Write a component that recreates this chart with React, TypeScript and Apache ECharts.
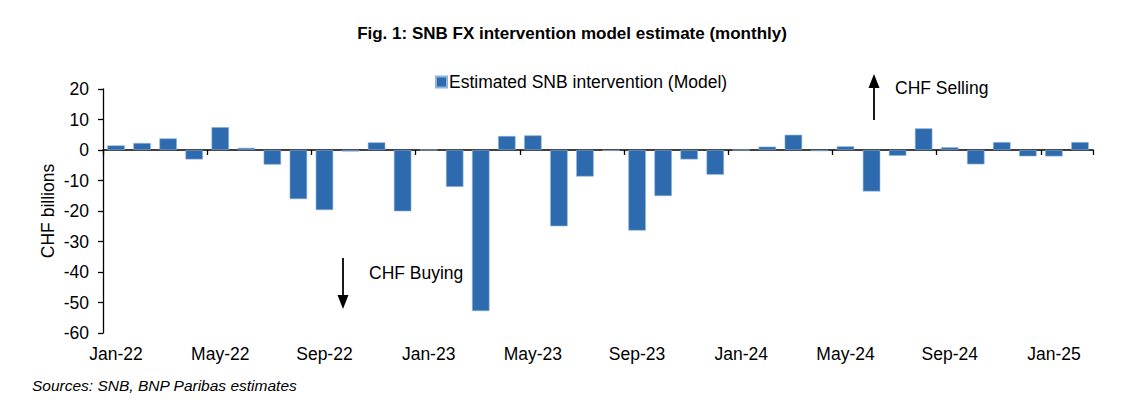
import React, { useEffect, useRef } from "react";
import * as echarts from "echarts";

const months: string[] = [
  "Jan-22", "Feb-22", "Mar-22", "Apr-22", "May-22", "Jun-22", "Jul-22", "Aug-22", "Sep-22", "Oct-22", "Nov-22", "Dec-22",
  "Jan-23", "Feb-23", "Mar-23", "Apr-23", "May-23", "Jun-23", "Jul-23", "Aug-23", "Sep-23", "Oct-23", "Nov-23", "Dec-23",
  "Jan-24", "Feb-24", "Mar-24", "Apr-24", "May-24", "Jun-24", "Jul-24", "Aug-24", "Sep-24", "Oct-24", "Nov-24", "Dec-24",
  "Jan-25", "Feb-25",
];

const intervention: number[] = [
  1.5, 2.3, 3.8, -3.1, 7.5, 0.7, -4.8, -16.1, -19.7, -0.5, 2.5, -20.1,
  0, -12.1, -52.8, 4.6, 4.8, -25.0, -8.7, -0.3, -26.4, -15.1, -3.1, -8.1,
  0, 1.1, 5.0, -0.4, 1.2, -13.6, -1.9, 7.1, 0.9, -4.7, 2.6, -2.1,
  -2.1, 2.6,
];

const yTicks = { min: -60, max: 20, interval: 10 };

const FONT = "'Liberation Sans', Arial, Helvetica, sans-serif";
const FS = 17.5;

export default function App() {
  const ref = useRef<HTMLDivElement>(null);

  useEffect(() => {
    document.body.style.margin = "0";
    const chart = echarts.init(ref.current!, null, { renderer: "svg" });
    chart.setOption({
      animation: false,
      backgroundColor: "#ffffff",
      textStyle: { fontFamily: FONT },
      title: {
        text: "Fig. 1: SNB FX intervention model estimate (monthly)",
        left: "center",
        top: 20,
        textStyle: { fontFamily: FONT, fontSize: 17, fontWeight: "bold", color: "#000" },
      },
      legend: {
        left: 430,
        top: 68,
        icon: "rect",
        itemWidth: 11,
        itemHeight: 11,
        textStyle: { fontFamily: FONT, fontSize: FS, color: "#000", padding: [0, 0, 0, -3] },
        data: ["Estimated SNB intervention (Model)"],
      },
      grid: { left: 103, right: 51, top: 89, bottom: 74, containLabel: false },
      xAxis: [
        {
          type: "category",
          data: months,
          boundaryGap: true,
          axisLine: { onZero: true, lineStyle: { color: "#000", width: 1.5 } },
          axisTick: { show: true, interval: 3, length: 5, inside: false, lineStyle: { color: "#000", width: 1.3 } },
          axisLabel: { show: false },
          splitLine: { show: false },
        },
        {
          type: "category",
          data: months,
          boundaryGap: true,
          position: "bottom",
          axisLine: { show: false, onZero: false },
          axisTick: { show: false },
          axisLabel: { show: true, interval: 3, margin: 12, fontFamily: FONT, fontSize: FS, color: "#000" },
          splitLine: { show: false },
        },
      ],
      yAxis: {
        type: "value",
        min: yTicks.min,
        max: yTicks.max,
        interval: yTicks.interval,
        axisLine: { show: true, lineStyle: { color: "#000", width: 1.3 } },
        axisTick: { show: true, length: 5, inside: false, lineStyle: { color: "#000", width: 1.3 } },
        axisLabel: { fontFamily: FONT, fontSize: FS, color: "#000", margin: 14 },
        splitLine: { show: false },
      },
      graphic: [
        {
          type: "text",
          x: 48,
          y: 211,
          rotation: Math.PI / 2,
          style: { text: "CHF billions", font: `${FS}px ${FONT}`, fill: "#000", verticalAlign: "middle", align: "center" },
        },
        {
          type: "line",
          shape: { x1: 874, y1: 120, x2: 874, y2: 86 },
          style: { stroke: "#000", lineWidth: 1.8 },
        },
        {
          type: "polygon",
          shape: { points: [[874, 74], [868.5, 88], [879.5, 88]] },
          style: { fill: "#000" },
        },
        {
          type: "text",
          x: 895,
          y: 88,
          style: { text: "CHF Selling", font: `${FS}px ${FONT}`, fill: "#000", verticalAlign: "middle", align: "left" },
        },
        {
          type: "line",
          shape: { x1: 343, y1: 258, x2: 343, y2: 296 },
          style: { stroke: "#000", lineWidth: 1.8 },
        },
        {
          type: "polygon",
          shape: { points: [[343, 309], [337.5, 295], [348.5, 295]] },
          style: { fill: "#000" },
        },
        {
          type: "text",
          x: 369,
          y: 273,
          style: { text: "CHF Buying", font: `${FS}px ${FONT}`, fill: "#000", verticalAlign: "middle", align: "left" },
        },
        {
          type: "text",
          x: 32,
          y: 385,
          style: {
            text: "Sources: SNB, BNP Paribas estimates",
            font: `italic 15.5px ${FONT}`,
            fill: "#000",
            verticalAlign: "middle",
            align: "left",
          },
        },
      ],
      series: [
        {
          name: "Estimated SNB intervention (Model)",
          type: "bar",
          xAxisIndex: 0,
          data: intervention,
          barCategoryGap: "33%",
          itemStyle: { color: "#2E6AAE", borderColor: "#8DB4DE", borderWidth: 0.6 },
        },
      ],
    });
    return () => chart.dispose();
  }, []);

  return <div ref={ref} style={{ width: 1144, height: 407 }} />;
}
